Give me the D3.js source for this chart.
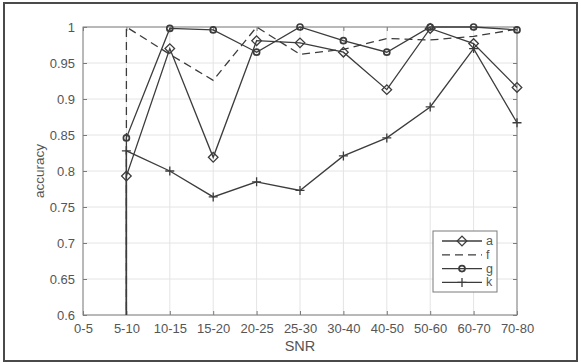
<!DOCTYPE html>
<html>
<head>
<meta charset="utf-8">
<script src="https://cdn.jsdelivr.net/npm/d3@7"></script>
<style>
  body { margin: 0; background: #fff; }
  text { font-family: "Liberation Sans", Arial, sans-serif; }
</style>
</head>
<body>
<svg id="chart" width="581" height="363"></svg>
<script>
/* data */
const snr = ["0-5", "5-10", "10-15", "15-20", "20-25", "25-30", "30-40", "40-50", "50-60", "60-70", "70-80"];
const yTicks = [0.6, 0.65, 0.7, 0.75, 0.8, 0.85, 0.9, 0.95, 1];
// values from 5-10 to 70-80
const aVals = [0.793, 0.970, 0.819, 0.981, 0.978, 0.965, 0.913, 0.998, 0.977, 0.916];
const fVals = [1.000, 0.962, 0.926, 1.000, 0.962, 0.969, 0.984, 0.982, 0.987, 0.997];
const gVals = [0.846, 0.998, 0.996, 0.965, 1.000, 0.981, 0.965, 1.000, 1.000, 0.996];
const kVals = [0.828, 0.800, 0.764, 0.785, 0.773, 0.821, 0.846, 0.889, 0.970, 0.867];
// each curve rises from far below the axis at 5-10 (off-scale value)
const lowStart = [0.3, 0.3, 0.3, 0.3];
const names = ["a", "f", "g", "k"];

const mLeft = 83, mRight = 517, mTop = 27, mBottom = 315;
const lineColor = "#3c3c3c";

let svg = d3.select("#chart");

/* outer frame */
svg.append("rect")
    .attr("x", 4).attr("y", 3)
    .attr("width", 573).attr("height", 358)
    .attr("fill", "none")
    .attr("stroke", "#4a4a4a")
    .attr("stroke-width", 2);

/* scales */
let xScale = d3.scalePoint().domain(snr).range([mLeft, mRight]);
let yScale = d3.scaleLinear().domain([0.6, 1]).range([mBottom, mTop]);

/* grid */
let grid = svg.append("g").attr("id", "grid");
grid.selectAll("line.gx")
    .data(snr)
    .join("line")
    .attr("class", "gx")
    .attr("x1", d => xScale(d)).attr("x2", d => xScale(d))
    .attr("y1", mTop).attr("y2", mBottom)
    .attr("stroke", "#e4e4e4");
grid.selectAll("line.gy")
    .data(yTicks)
    .join("line")
    .attr("class", "gy")
    .attr("x1", mLeft).attr("x2", mRight)
    .attr("y1", d => yScale(d)).attr("y2", d => yScale(d))
    .attr("stroke", "#e4e4e4");

/* axes, MATLAB style: inward ticks on all four sides */
function styleAxis(g) {
    g.select(".domain").remove();
    g.selectAll(".tick line").attr("stroke", "#7a7a7a");
    g.selectAll(".tick text")
        .attr("fill", "#555")
        .style("font-size", "13px");
}

svg.append("g")
    .attr("transform", "translate(0," + mBottom + ")")
    .call(d3.axisBottom(xScale).tickSize(-4).tickPadding(9))
    .call(styleAxis);
svg.append("g")
    .attr("transform", "translate(0," + mTop + ")")
    .call(d3.axisTop(xScale).tickSize(-4).tickFormat(""))
    .call(styleAxis);
svg.append("g")
    .attr("transform", "translate(" + mLeft + ",0)")
    .call(d3.axisLeft(yScale).tickValues(yTicks).tickSize(-4).tickPadding(8).tickFormat(d3.format("")))
    .call(styleAxis);
svg.append("g")
    .attr("transform", "translate(" + mRight + ",0)")
    .call(d3.axisRight(yScale).tickValues(yTicks).tickSize(-4).tickFormat(""))
    .call(styleAxis);

svg.append("rect")
    .attr("x", mLeft).attr("y", mTop)
    .attr("width", mRight - mLeft).attr("height", mBottom - mTop)
    .attr("fill", "none")
    .attr("stroke", "#808080");

/* labels */
svg.append("text")
    .attr("x", (mLeft + mRight) / 2).attr("y", 351)
    .attr("text-anchor", "middle")
    .attr("fill", "#555")
    .style("font-size", "14.5px")
    .text("SNR");
svg.append("text")
    .attr("transform", "translate(44," + (mTop + mBottom) / 2 + ") rotate(-90)")
    .attr("text-anchor", "middle")
    .attr("fill", "#555")
    .style("font-size", "13.5px")
    .text("accuracy");

/* series */
svg.append("defs").append("clipPath").attr("id", "plotclip")
    .append("rect")
    .attr("x", mLeft).attr("y", mTop - 6)
    .attr("width", mRight - mLeft + 6).attr("height", mBottom - mTop + 6);

let xs = snr.slice(1);
let series = [aVals, fVals, gVals, kVals].map((vals, i) => ({
    name: names[i],
    points: vals.map((v, j) => ({ x: xs[j], y: v })),
    lead: { x: xs[0], y: lowStart[i] }
}));

let line = d3.line()
    .x(d => xScale(d.x))
    .y(d => yScale(d.y));

let plot = svg.append("g").attr("id", "lines").attr("clip-path", "url(#plotclip)");

plot.selectAll("path")
    .data(series)
    .join("path")
    .attr("d", d => line([d.lead].concat(d.points)))
    .attr("fill", "none")
    .attr("stroke", lineColor)
    .attr("stroke-width", 1.3)
    .attr("stroke-dasharray", d => d.name === "f" ? "8,5" : null);

function drawMarker(g, name, cx, cy) {
    if (name === "a") {
        g.append("path")
            .attr("d", d3.symbol(d3.symbolSquare, 46)())
            .attr("transform", "translate(" + cx + "," + cy + ") rotate(45)")
            .attr("fill", "none")
            .attr("stroke", lineColor)
            .attr("stroke-width", 1.3);
    } else if (name === "g") {
        g.append("circle")
            .attr("cx", cx).attr("cy", cy).attr("r", 3)
            .attr("fill", "none")
            .attr("stroke", lineColor)
            .attr("stroke-width", 1.7);
    } else if (name === "k") {
        g.append("path")
            .attr("d", "M" + (cx - 4.5) + "," + cy + "h9M" + cx + "," + (cy - 4.5) + "v9")
            .attr("stroke", lineColor)
            .attr("stroke-width", 1.3);
    }
}

let markers = svg.append("g").attr("id", "markers");
series.forEach(s => {
    s.points.forEach(p => drawMarker(markers, s.name, xScale(p.x), yScale(p.y)));
});

/* legend */
let legend = svg.append("g").attr("id", "legend");
legend.append("rect")
    .attr("x", 433).attr("y", 231)
    .attr("width", 64).attr("height", 61)
    .attr("fill", "#fff")
    .attr("stroke", "#7a7a7a");
names.forEach((n, i) => {
    let y = 241 + i * 13.8;
    legend.append("line")
        .attr("x1", 442).attr("x2", 482)
        .attr("y1", y).attr("y2", y)
        .attr("stroke", lineColor)
        .attr("stroke-width", 1.3)
        .attr("stroke-dasharray", n === "f" ? "8,5" : null);
    drawMarker(legend, n, 462, y);
    legend.append("text")
        .attr("x", 486).attr("y", y + 4)
        .attr("fill", "#555")
        .style("font-size", "12.5px")
        .text(n);
});
</script>
</body>
</html>
